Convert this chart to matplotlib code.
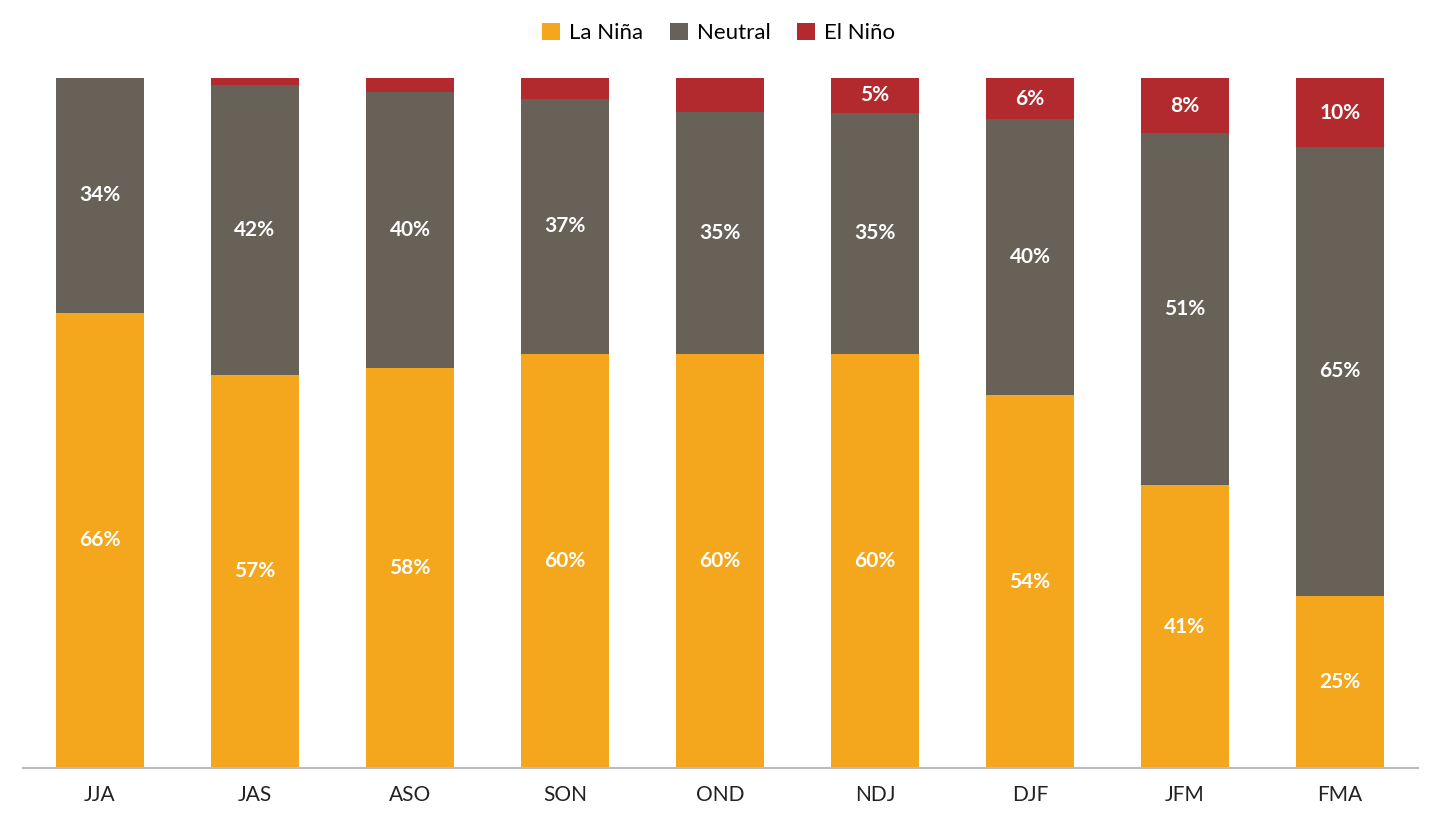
import matplotlib
matplotlib.use("Agg")
import matplotlib.pyplot as plt
import numpy as np

categories = ["JJA", "JAS", "ASO", "SON", "OND", "NDJ", "DJF", "JFM", "FMA"]
la_nina = [66, 57, 58, 60, 60, 60, 54, 41, 25]
neutral = [34, 42, 40, 37, 35, 35, 40, 51, 65]
el_nino = [0, 1, 2, 3, 4.9, 5, 6, 8, 10]

plt.rcParams['font.family'] = ['Lato', 'DejaVu Sans']
fig = plt.figure(figsize=(14.37, 8.26), dpi=100)
ax = fig.add_axes([22.5/1437, 1-768/826, 1395/1437, 690/826])

x = np.arange(len(categories))
w = 0.57
c_ln, c_ne, c_en = "#F4A71D", "#686157", "#B22A2E"
ln = np.array(la_nina); ne = np.array(neutral); en = np.array(el_nino)
tot = ln + ne + en
b1 = ax.bar(x, ln / tot * 100, w, color=c_ln, label="La Niña")
b2 = ax.bar(x, ne / tot * 100, w, bottom=ln / tot * 100, color=c_ne, label="Neutral")
b3 = ax.bar(x, en / tot * 100, w, bottom=(ln + ne) / tot * 100, color=c_en, label="El Niño")

for i in range(len(x)):
    l = ln[i] / tot[i] * 100; n = ne[i] / tot[i] * 100; e = en[i] / tot[i] * 100
    kw = dict(ha="center", va="center", color="white", fontsize=15, fontweight="bold")
    ax.text(x[i], l / 2, f"{la_nina[i]}%", **kw)
    ax.text(x[i], l + n / 2, f"{neutral[i]}%", **kw)
    if el_nino[i] >= 5:
        ax.text(x[i], l + n + e / 2, f"{el_nino[i]}%", **kw)

ax.set_xlim(-0.5, len(x) - 0.5)
ax.set_ylim(0, 100)
ax.set_yticks([])
ax.set_xticks(x)
ax.set_xticklabels(categories, fontsize=15, color="#222222")
ax.tick_params(axis="x", length=0, pad=12)
for s in ["top", "right", "left"]:
    ax.spines[s].set_visible(False)
ax.spines["bottom"].set_color("#BBBBBB")
ax.spines["bottom"].set_linewidth(1.5)

fig.legend(handles=[b1, b2, b3], loc="center", bbox_to_anchor=(0.5, 1-33/826), ncol=3,
           frameon=False, fontsize=16, handlelength=0.8, handleheight=0.8,
           handletextpad=0.4, columnspacing=1.2)
fig.savefig("out.png", dpi=100)
